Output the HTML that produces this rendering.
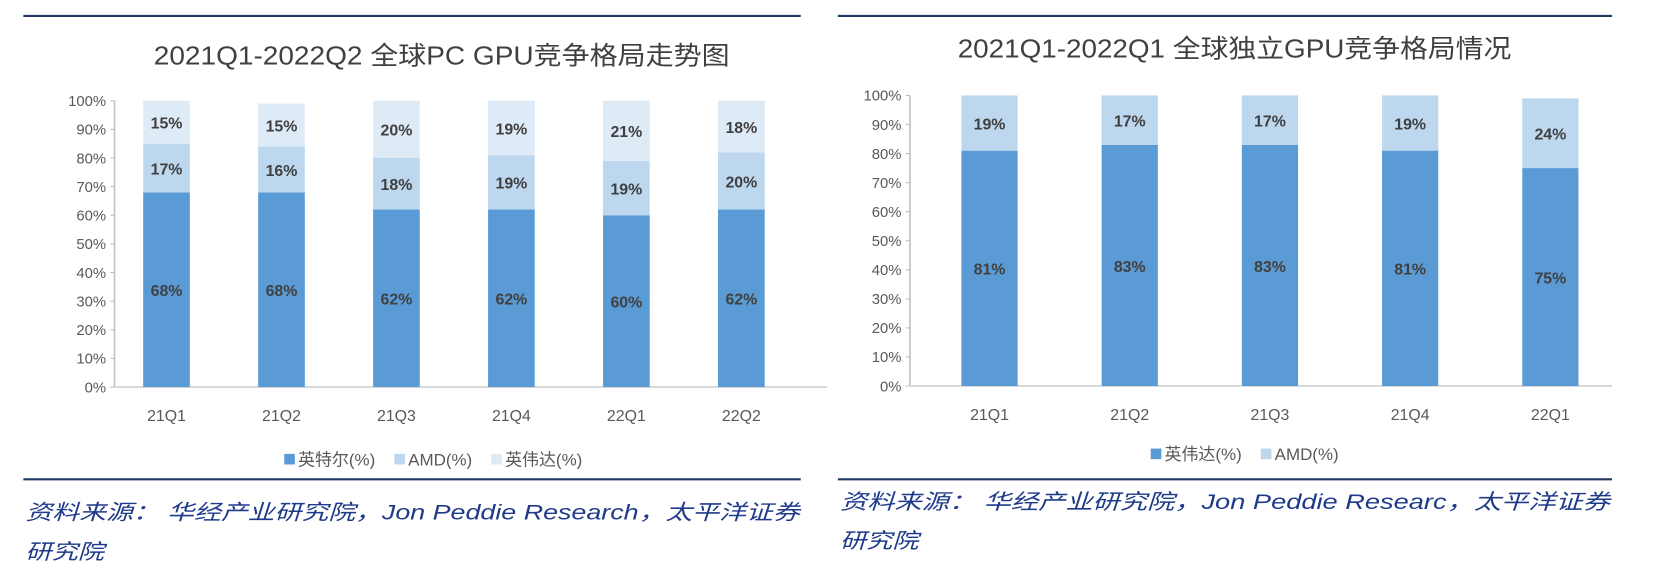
<!DOCTYPE html>
<html><head><meta charset="utf-8"><style>
body{margin:0;background:#fff;width:1663px;height:579px;overflow:hidden;font-family:"Liberation Sans","Noto Sans CJK SC",sans-serif}
svg{position:absolute;left:0;top:0}
</style></head><body>
<svg width="1663" height="579" viewBox="0 0 1568 546" preserveAspectRatio="none" xmlns="http://www.w3.org/2000/svg" id="root">
<line x1="22" y1="15" x2="755" y2="15" stroke="#203864" stroke-width="2"/>
<line x1="22" y1="452" x2="755" y2="452" stroke="#203864" stroke-width="2"/>
<line x1="790" y1="15" x2="1520" y2="15" stroke="#203864" stroke-width="2"/>
<line x1="790" y1="452" x2="1520" y2="452" stroke="#203864" stroke-width="2"/>
<text x="145" y="61" textLength="543" lengthAdjust="spacingAndGlyphs" font-size="24" fill="#404040">2021Q1-2022Q2 全球PC GPU竞争格局走势图</text>
<text x="903" y="54" textLength="522" lengthAdjust="spacingAndGlyphs" font-size="24" fill="#404040">2021Q1-2022Q1 全球独立GPU竞争格局情况</text>
<g id="left"></g>
<g id="right"></g>
<g font-style="italic" font-size="20" fill="#1f3a8a">
<text x="24" y="490" textLength="730" lengthAdjust="spacingAndGlyphs">资料来源：  华经产业研究院，Jon Peddie Research，太平洋证券</text>
<text x="24" y="527" textLength="74" lengthAdjust="spacingAndGlyphs">研究院</text>
<text x="792" y="480" textLength="726" lengthAdjust="spacingAndGlyphs">资料来源：  华经产业研究院，Jon Peddie Researc，太平洋证券</text>
<text x="792" y="517" textLength="74" lengthAdjust="spacingAndGlyphs">研究院</text>
</g>
</svg>
<script>
const leftCats=["21Q1","21Q2","21Q3","21Q4","22Q1","22Q2"];
const leftIntel=[68,68,62,62,60,62];
const leftAMD=[17,16,18,19,19,20];
const leftNvidia=[15,15,20,19,21,18];
const rightCats=["21Q1","21Q2","21Q3","21Q4","22Q1"];
const rightNvidia=[81,83,83,81,75];
const rightAMD=[19,17,17,19,24];
const yTicks=[0,10,20,30,40,50,60,70,80,90,100];
const NS="http://www.w3.org/2000/svg";
function mk(p,tag,a,txt){const e=document.createElementNS(NS,tag);for(const k in a)e.setAttribute(k,a[k]);if(txt!==undefined)e.textContent=txt;p.appendChild(e);return e;}
function chart(g,cfg){
  const y=v=>cfg.y0-(cfg.y0-cfg.y100)*v/100;
  const x=i=>cfg.c0+i*cfg.step;
  yTicks.forEach(t=>{
    const l=mk(g,'text',{x:cfg.ax-8,y:y(t)+5,'text-anchor':'end','font-size':14,fill:'#595959'},t+'%');
    
    
    mk(g,'line',{x1:cfg.ax-4,x2:cfg.ax,y1:y(t),y2:y(t),stroke:'#bfbfbf'});
  });
  const ax=mk(g,'line',{x1:cfg.ax,x2:cfg.ax,y1:y(100),y2:y(0),stroke:'#bfbfbf','stroke-width':1.5});
  
  
  const bx=mk(g,'line',{x1:cfg.ax,x2:cfg.xend,y1:y(0),y2:y(0),stroke:'#d9d9d9','stroke-width':2});
  
  
  cfg.cats.forEach((c,i)=>{
    let base=0;
    cfg.series.forEach(s=>{
      const v=s.vals[i];
      const r=mk(g,'rect',{x:x(i)-cfg.w/2,y:y(base+v),width:cfg.w,height:y(base)-y(base+v),fill:s.color});
      
      
      const t=mk(g,'text',{x:x(i),y:(y(base)+y(base+v))/2+6,'text-anchor':'middle','font-size':15,'font-weight':'bold',fill:'#404040'},v+'%');
      
      
      base+=v;
    });
    const xl=mk(g,'text',{x:x(i),y:cfg.y0+32,'text-anchor':'middle','font-size':15,fill:'#595959'},c);
    
    
  });
  let lx=cfg.legX;
  cfg.series.forEach(s=>{
    const sw=mk(g,'rect',{x:lx,y:cfg.legY-11,width:10,height:10,fill:s.color});
    
    
    const t=mk(g,'text',{x:lx+13,y:cfg.legY,'font-size':16,fill:'#595959'},s.name);
    
    
    lx+=13+t.getComputedTextLength()+18;
  });
}
chart(document.getElementById('left'),{y0:365,y100:95,ax:108,xend:780,c0:157,step:108.4,w:44,cats:leftCats,legX:268,legY:439,
  series:[{key:'intel',name:'英特尔(%)',vals:leftIntel,color:'#5b9bd5'},{key:'amd',name:'AMD(%)',vals:leftAMD,color:'#bdd7ee'},{key:'nvidia',name:'英伟达(%)',vals:leftNvidia,color:'#deebf7'}]});
chart(document.getElementById('right'),{y0:364,y100:90,ax:858,xend:1520,c0:933,step:132.2,w:53,cats:rightCats,legX:1085,legY:434,
  series:[{key:'nvidia',name:'英伟达(%)',vals:rightNvidia,color:'#5b9bd5'},{key:'amd',name:'AMD(%)',vals:rightAMD,color:'#bdd7ee'}]});
</script>
</body></html>
